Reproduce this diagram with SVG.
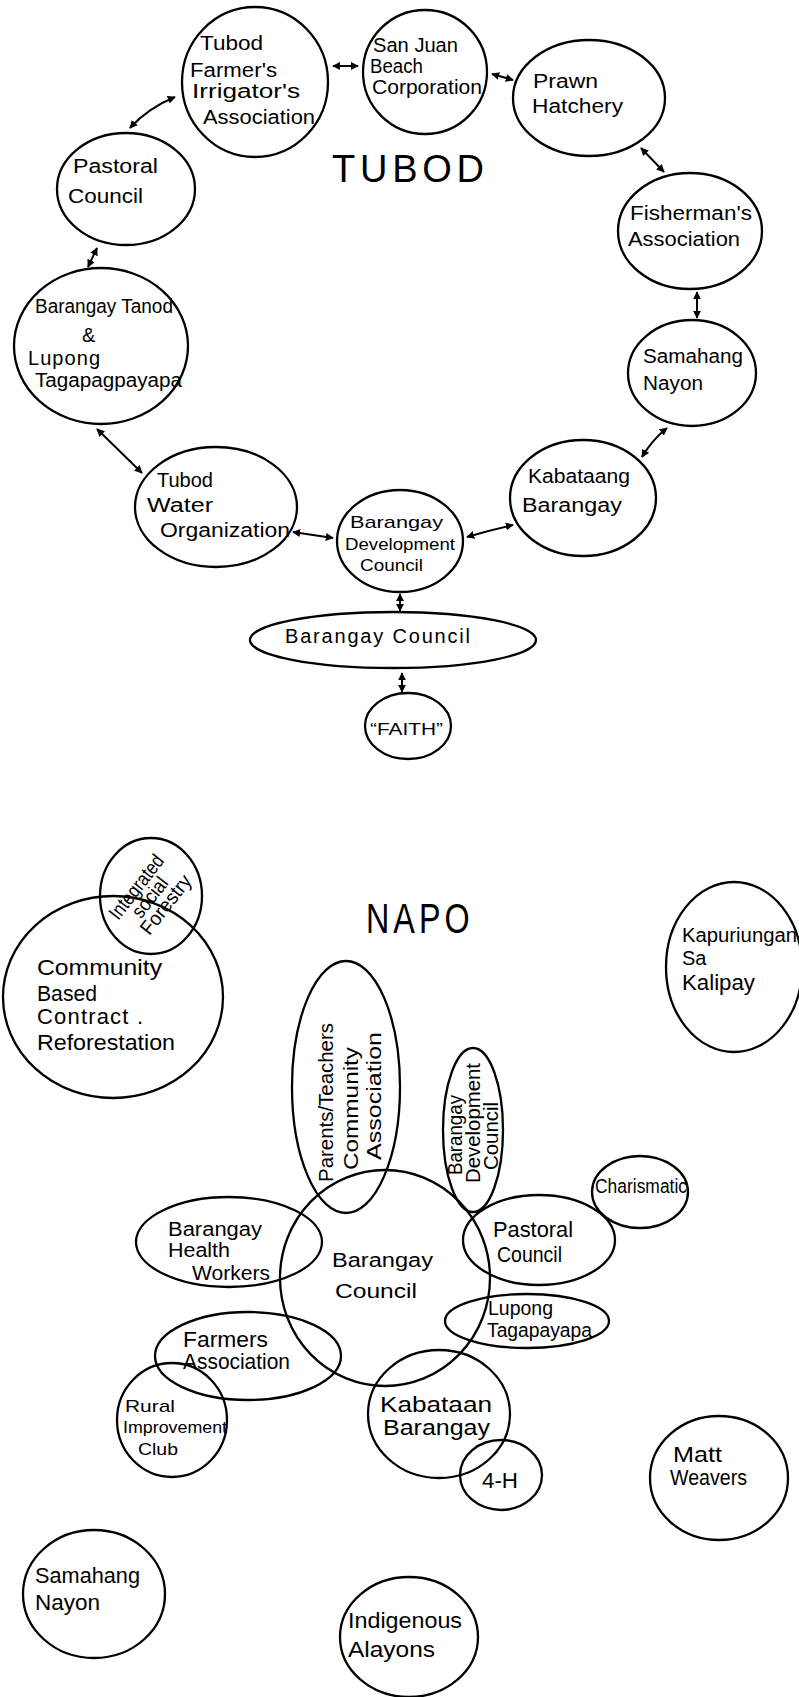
<svg xmlns="http://www.w3.org/2000/svg" width="799" height="1697" viewBox="0 0 799 1697">
<defs>
<style>
.n{fill:none;stroke:#000;stroke-width:2.3}
.t{font-family:"Liberation Sans","DejaVu Sans",sans-serif;fill:#000;font-size:20px}
.s{font-size:17px}
.m{font-size:22px}
.c{fill:none;stroke:#000;stroke-width:2}
.title{font-family:"Liberation Sans","DejaVu Sans",sans-serif;fill:#000;font-size:38px}
</style>
<marker id="ah" viewBox="0 0 10 10" refX="9" refY="5" markerWidth="8" markerHeight="8" markerUnits="userSpaceOnUse" orient="auto-start-reverse">
<path d="M0,0 L10,5 L0,10 z" fill="#000"/>
</marker>
</defs>
<rect width="799" height="1697" fill="#fff"/>

<text class="title" x="332" y="182" textLength="152" lengthAdjust="spacing">TUBOD</text>
<text class="title" x="366" y="933" font-size="32" textLength="122" lengthAdjust="spacing" transform="translate(366,933) scale(0.85,1.1) translate(-366,-933)">NAPO</text>

<g id="connectors">
<path class="c" d="M333,66 L358,66" marker-start="url(#ah)" marker-end="url(#ah)"/>
<path class="c" d="M492,74 L513,80" marker-start="url(#ah)" marker-end="url(#ah)"/>
<path class="c" d="M641,148 L664,172" marker-start="url(#ah)" marker-end="url(#ah)"/>
<path class="c" d="M697,292 L697,318" marker-start="url(#ah)" marker-end="url(#ah)"/>
<path class="c" d="M667,428 Q652,440 642,457" marker-start="url(#ah)" marker-end="url(#ah)"/>
<path class="c" d="M513,525 Q490,530 467,537" marker-start="url(#ah)" marker-end="url(#ah)"/>
<path class="c" d="M400,594 L400,611" marker-start="url(#ah)" marker-end="url(#ah)"/>
<path class="c" d="M402,673 L402,692" marker-start="url(#ah)" marker-end="url(#ah)"/>
<path class="c" d="M293,532 L333,538" marker-start="url(#ah)" marker-end="url(#ah)"/>
<path class="c" d="M97,429 L142,473" marker-start="url(#ah)" marker-end="url(#ah)"/>
<path class="c" d="M97,248 L88,267" marker-start="url(#ah)" marker-end="url(#ah)"/>
<path class="c" d="M175,97 Q148,108 130,128" marker-start="url(#ah)" marker-end="url(#ah)"/>
</g>

<g id="tubod-farmers-irrigators">
<ellipse class="n" cx="255" cy="82" rx="73" ry="75"/>
<text class="t" x="200" y="50" textLength="63" lengthAdjust="spacingAndGlyphs">Tubod</text>
<text class="t" x="190" y="77" textLength="87" lengthAdjust="spacingAndGlyphs">Farmer's</text>
<text class="t" x="192" y="98" textLength="108" lengthAdjust="spacingAndGlyphs">Irrigator's</text>
<text class="t" x="203" y="124" textLength="112" lengthAdjust="spacingAndGlyphs">Association</text>
</g>
<g id="san-juan">
<ellipse class="n" cx="425" cy="72" rx="62" ry="62"/>
<text class="t" x="373" y="52" textLength="85" lengthAdjust="spacingAndGlyphs">San Juan</text>
<text class="t" x="370" y="73" textLength="53" lengthAdjust="spacingAndGlyphs">Beach</text>
<text class="t" x="372" y="94" textLength="110" lengthAdjust="spacingAndGlyphs">Corporation</text>
</g>
<g id="prawn-hatchery">
<ellipse class="n" cx="589" cy="98" rx="76" ry="58"/>
<text class="t" x="533" y="88" textLength="65" lengthAdjust="spacingAndGlyphs">Prawn</text>
<text class="t" x="532" y="113" textLength="91" lengthAdjust="spacingAndGlyphs">Hatchery</text>
</g>
<g id="fishermans">
<ellipse class="n" cx="690" cy="231" rx="72" ry="58"/>
<text class="t" x="630" y="220" textLength="122" lengthAdjust="spacingAndGlyphs">Fisherman's</text>
<text class="t" x="628" y="246" textLength="112" lengthAdjust="spacingAndGlyphs">Association</text>
</g>
<g id="samahang-tubod">
<ellipse class="n" cx="692" cy="373" rx="64" ry="53"/>
<text class="t" x="643" y="363" textLength="100" lengthAdjust="spacingAndGlyphs">Samahang</text>
<text class="t" x="643" y="390" textLength="60" lengthAdjust="spacingAndGlyphs">Nayon</text>
</g>
<g id="kabataang-tubod">
<ellipse class="n" cx="583" cy="498" rx="73" ry="58"/>
<text class="t" x="528" y="483" textLength="102" lengthAdjust="spacingAndGlyphs">Kabataang</text>
<text class="t" x="522" y="512" textLength="100" lengthAdjust="spacingAndGlyphs">Barangay</text>
</g>
<g id="bdc-tubod">
<ellipse class="n" cx="400" cy="541" rx="63" ry="51"/>
<text class="t s" x="350" y="528" textLength="93" lengthAdjust="spacingAndGlyphs">Barangay</text>
<text class="t s" x="345" y="550" textLength="110" lengthAdjust="spacingAndGlyphs">Development</text>
<text class="t s" x="360" y="571" textLength="63" lengthAdjust="spacingAndGlyphs">Council</text>
</g>
<g id="tubod-water">
<ellipse class="n" cx="216" cy="507" rx="81" ry="60"/>
<text class="t" x="157" y="487" textLength="56" lengthAdjust="spacingAndGlyphs">Tubod</text>
<text class="t" x="147" y="512" textLength="66" lengthAdjust="spacingAndGlyphs">Water</text>
<text class="t" x="160" y="537" textLength="130" lengthAdjust="spacingAndGlyphs">Organization</text>
</g>
<g id="barangay-tanod">
<ellipse class="n" cx="101" cy="346" rx="87" ry="78"/>
<text class="t" x="35" y="313" textLength="138" lengthAdjust="spacingAndGlyphs">Barangay Tanod</text>
<text class="t" x="82" y="342">&amp;</text>
<text class="t" x="28" y="365" textLength="72" lengthAdjust="spacing">Lupong</text>
<text class="t" x="35" y="387" textLength="147" lengthAdjust="spacingAndGlyphs">Tagapagpayapa</text>
</g>
<g id="pastoral-tubod">
<ellipse class="n" cx="126" cy="189" rx="69" ry="56"/>
<text class="t" x="73" y="173" textLength="85" lengthAdjust="spacingAndGlyphs">Pastoral</text>
<text class="t" x="68" y="203" textLength="75" lengthAdjust="spacingAndGlyphs">Council</text>
</g>
<g id="barangay-council-tubod">
<ellipse class="n" cx="393" cy="640" rx="143" ry="28"/>
<text class="t" x="285" y="643" textLength="185" lengthAdjust="spacing">Barangay Council</text>
</g>
<g id="faith">
<ellipse class="n" cx="408" cy="726" rx="43" ry="33"/>
<text class="t s" x="370" y="735" textLength="73" lengthAdjust="spacingAndGlyphs">“FAITH”</text>
</g>

<g id="integrated-social-forestry">
<ellipse class="n" cx="151" cy="896" rx="51" ry="58"/>
<g transform="translate(152,899) rotate(-52)">
<text class="t" font-size="14" x="0" y="-13" text-anchor="middle" textLength="76" lengthAdjust="spacingAndGlyphs">Integrated</text>
<text class="t" font-size="14" x="0" y="4" text-anchor="middle" textLength="46" lengthAdjust="spacingAndGlyphs">social</text>
<text class="t" font-size="14" x="4" y="21" text-anchor="middle" textLength="70" lengthAdjust="spacingAndGlyphs">Forestry</text>
</g>
</g>
<g id="community-based">
<ellipse class="n" cx="113" cy="997" rx="110" ry="101"/>
<text class="t m" x="37" y="975" textLength="125" lengthAdjust="spacingAndGlyphs">Community</text>
<text class="t m" x="37" y="1001" textLength="60" lengthAdjust="spacingAndGlyphs">Based</text>
<text class="t m" x="37" y="1024" textLength="106" lengthAdjust="spacing">Contract .</text>
<text class="t m" x="37" y="1050" textLength="138" lengthAdjust="spacingAndGlyphs">Reforestation</text>
</g>
<g id="kapuriungan">
<ellipse class="n" cx="734" cy="967" rx="68" ry="85"/>
<text class="t" x="682" y="942" textLength="115" lengthAdjust="spacingAndGlyphs">Kapuriungan</text>
<text class="t" x="682" y="965">Sa</text>
<text class="t m" x="682" y="990" textLength="73" lengthAdjust="spacingAndGlyphs">Kalipay</text>
</g>
<g id="ptca">
<ellipse class="n" cx="346" cy="1087" rx="54" ry="126"/>
<text class="t" transform="translate(333,1182) rotate(-90)" font-size="21" textLength="159" lengthAdjust="spacingAndGlyphs">Parents/Teachers</text>
<text class="t" transform="translate(358,1170) rotate(-90)" font-size="21" textLength="123" lengthAdjust="spacingAndGlyphs">Community</text>
<text class="t" transform="translate(381,1160) rotate(-90)" font-size="21" textLength="128" lengthAdjust="spacingAndGlyphs">Association</text>
</g>
<g id="bdc-napo">
<ellipse class="n" cx="473" cy="1130" rx="30" ry="82"/>
<text class="t" font-size="16" transform="translate(462,1175) rotate(-90)" textLength="80" lengthAdjust="spacingAndGlyphs">Barangay</text>
<text class="t" font-size="16" transform="translate(480,1183) rotate(-90)" textLength="120" lengthAdjust="spacingAndGlyphs">Development</text>
<text class="t" font-size="16" transform="translate(498,1170) rotate(-90)" textLength="68" lengthAdjust="spacingAndGlyphs">Council</text>
</g>
<g id="charismatic">
<ellipse class="n" cx="640" cy="1192" rx="48" ry="36"/>
<text class="t" x="595" y="1193" font-size="15" textLength="92" lengthAdjust="spacingAndGlyphs">Charismatic</text>
</g>
<g id="barangay-council-napo">
<ellipse class="n" cx="385" cy="1278" rx="105" ry="108"/>
<text class="t" x="332" y="1267" font-size="28" textLength="101" lengthAdjust="spacingAndGlyphs">Barangay</text>
<text class="t" x="335" y="1298" font-size="28" textLength="82" lengthAdjust="spacingAndGlyphs">Council</text>
</g>
<g id="health-workers">
<ellipse class="n" cx="229" cy="1242" rx="93" ry="45"/>
<text class="t" x="168" y="1236" textLength="94" lengthAdjust="spacingAndGlyphs">Barangay</text>
<text class="t" x="168" y="1257" textLength="62" lengthAdjust="spacingAndGlyphs">Health</text>
<text class="t" x="192" y="1280" textLength="78" lengthAdjust="spacingAndGlyphs">Workers</text>
</g>
<g id="pastoral-napo">
<ellipse class="n" cx="539" cy="1240" rx="76" ry="45"/>
<text class="t m" x="493" y="1237" textLength="80" lengthAdjust="spacingAndGlyphs">Pastoral</text>
<text class="t m" x="497" y="1262" textLength="65" lengthAdjust="spacingAndGlyphs">Council</text>
</g>
<g id="lupong">
<ellipse class="n" cx="527" cy="1321" rx="82" ry="27"/>
<text class="t" x="488" y="1315" font-size="18" textLength="65" lengthAdjust="spacingAndGlyphs">Lupong</text>
<text class="t" x="487" y="1337" font-size="18" textLength="105" lengthAdjust="spacingAndGlyphs">Tagapayapa</text>
</g>
<g id="farmers-association">
<ellipse class="n" cx="248" cy="1356" rx="93" ry="44"/>
<text class="t m" x="183" y="1347" textLength="85" lengthAdjust="spacingAndGlyphs">Farmers</text>
<text class="t m" x="183" y="1369" textLength="107" lengthAdjust="spacingAndGlyphs">Association</text>
</g>
<g id="rural-improvement">
<ellipse class="n" cx="172" cy="1420" rx="55" ry="57"/>
<text class="t s" x="125" y="1412" textLength="50" lengthAdjust="spacingAndGlyphs">Rural</text>
<text class="t s" x="123" y="1433" textLength="104" lengthAdjust="spacingAndGlyphs">Improvement</text>
<text class="t s" x="138" y="1455" textLength="40" lengthAdjust="spacingAndGlyphs">Club</text>
</g>
<g id="kabataan-napo">
<ellipse class="n" cx="439" cy="1414" rx="71" ry="64"/>
<text class="t m" x="380" y="1412" textLength="112" lengthAdjust="spacingAndGlyphs">Kabataan</text>
<text class="t m" x="383" y="1435" textLength="107" lengthAdjust="spacingAndGlyphs">Barangay</text>
</g>
<g id="four-h">
<ellipse class="n" cx="501" cy="1475" rx="41" ry="35"/>
<text class="t m" x="482" y="1488" textLength="36" lengthAdjust="spacingAndGlyphs">4-H</text>
</g>
<g id="matt-weavers">
<ellipse class="n" cx="719" cy="1478" rx="69" ry="62"/>
<text class="t m" x="673" y="1462" textLength="49" lengthAdjust="spacingAndGlyphs">Matt</text>
<text class="t m" x="670" y="1485" textLength="77" lengthAdjust="spacingAndGlyphs">Weavers</text>
</g>
<g id="samahang-napo">
<ellipse class="n" cx="94" cy="1594" rx="71" ry="64"/>
<text class="t m" x="35" y="1583" textLength="105" lengthAdjust="spacingAndGlyphs">Samahang</text>
<text class="t m" x="35" y="1610" textLength="65" lengthAdjust="spacingAndGlyphs">Nayon</text>
</g>
<g id="indigenous-alayons">
<ellipse class="n" cx="409" cy="1637" rx="69" ry="60"/>
<text class="t m" x="348" y="1628" textLength="114" lengthAdjust="spacingAndGlyphs">Indigenous</text>
<text class="t m" x="348" y="1657" textLength="87" lengthAdjust="spacingAndGlyphs">Alayons</text>
</g>
</svg>
